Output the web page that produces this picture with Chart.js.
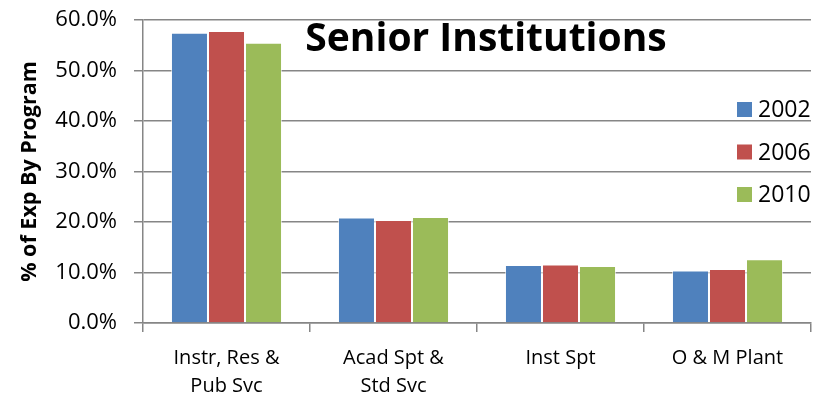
<!DOCTYPE html>
<html>
<head>
<meta charset="utf-8">
<script src="https://cdn.jsdelivr.net/npm/chart.js@4.4.1/dist/chart.umd.min.js"></script>
<style>
  html, body { margin: 0; padding: 0; background: #fff; }
  #wrap { width: 824px; height: 402px; }
</style>
</head>
<body>
<div id="wrap"><canvas id="chart" width="824" height="402"></canvas></div>
<script>
var categories = [['Instr, Res &', 'Pub Svc'], ['Acad Spt &', 'Std Svc'], 'Inst Spt', 'O & M Plant'];
var seriesNames = ['2002', '2006', '2010'];
var values2002 = [57.5, 20.9, 11.5, 10.4];
var values2006 = [57.8, 20.4, 11.6, 10.7];
var values2010 = [55.5, 21.0, 11.3, 12.6];
var seriesColors = ['#4F81BD', '#C0504D', '#9BBB59'];

var FONT = '"Open Sans", Lato, sans-serif';
var GRID = '#868686';

// title + legend sit inside the plot area, like the Excel original
const overlay = {
    id: 'overlay',
    afterDraw(chart) {
        const ctx = chart.ctx;
        ctx.save();
        ctx.fillStyle = '#000';
        ctx.textBaseline = 'alphabetic';
        ctx.textAlign = 'center';
        ctx.font = 'bold 39px ' + FONT;
        ctx.fillText('Senior Institutions', 486, 51);

        ctx.font = '23px ' + FONT;
        ctx.textAlign = 'left';
        chart.data.datasets.forEach(function(ds, i) {
            const y = 109 + i * 42.5;
            ctx.fillStyle = ds.backgroundColor;
            ctx.fillRect(737, y - 7, 15, 15);
            ctx.fillStyle = '#000';
            ctx.fillText(ds.label, 758, y + 8);
        });
        ctx.restore();
    }
};

new Chart(document.getElementById('chart').getContext('2d'), {
    type: 'bar',
    data: {
        labels: categories,
        datasets: [
            { label: seriesNames[0], data: values2002, backgroundColor: seriesColors[0] },
            { label: seriesNames[1], data: values2006, backgroundColor: seriesColors[1] },
            { label: seriesNames[2], data: values2010, backgroundColor: seriesColors[2] }
        ]
    },
    plugins: [overlay],
    options: {
        responsive: false,
        animation: false,
        layout: { padding: { left: 8, right: 13, top: 20, bottom: 0 } },
        datasets: {
            bar: {
                categoryPercentage: 0.665,
                barPercentage: 1.0,
                borderWidth: 1,
                borderColor: 'rgba(255,255,255,0.6)'
            }
        },
        plugins: {
            legend: { display: false },
            tooltip: { enabled: false }
        },
        scales: {
            x: {
                grid: { drawOnChartArea: false, color: GRID, lineWidth: 1.5, tickLength: 9 },
                border: { color: GRID, width: 1.5 },
                ticks: {
                    color: '#000',
                    font: { family: FONT, size: 20, lineHeight: 1.4 },
                    padding: 12,
                    maxRotation: 0
                },
                afterFit: function(scale) { scale.height = 79; }
            },
            y: {
                min: 0,
                max: 60,
                grid: { color: GRID, lineWidth: 1.5, tickLength: 9 },
                border: { color: GRID, width: 1.5 },
                ticks: {
                    stepSize: 10,
                    color: '#000',
                    font: { family: FONT, size: 22 },
                    padding: 17,
                    callback: function(v) { return v.toFixed(1) + '%'; }
                },
                title: {
                    display: true,
                    text: '% of Exp By Program',
                    color: '#000',
                    font: { family: FONT, size: 21.5, weight: 'bold' },
                    padding: { top: 9, bottom: 0 }
                },
                afterFit: function(scale) {
                    scale.width = 135;
                    scale.paddingTop = 0;
                    scale.paddingBottom = 0;
                }
            }
        }
    }
});
</script>
</body>
</html>
